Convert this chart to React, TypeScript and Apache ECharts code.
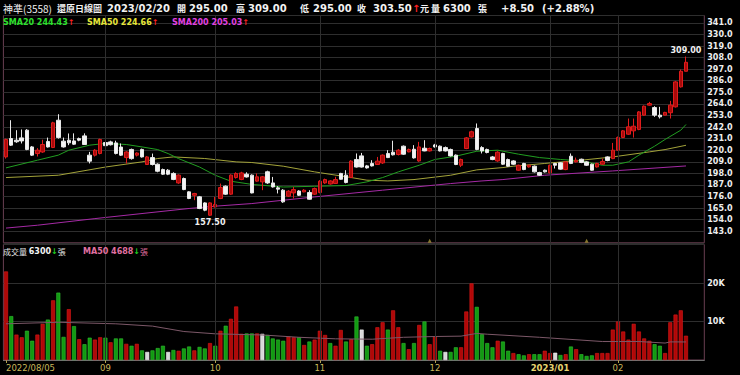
import React, { useEffect, useRef } from 'react';
import * as echarts from 'echarts';

// ---------- data ----------
const tradingDays: [string, number[]][] = [
  ['2022/08', [5, 8, 9, 10, 11, 12, 15, 16, 17, 18, 19, 22, 23, 24, 25, 26, 29, 30, 31]],
  ['2022/09', [1, 2, 5, 6, 7, 8, 12, 13, 14, 15, 16, 19, 20, 21, 22, 23, 26, 27, 28, 29, 30]],
  ['2022/10', [3, 4, 5, 6, 7, 11, 12, 13, 14, 17, 18, 19, 20, 21, 24, 25, 26, 27, 28, 31]],
  ['2022/11', [1, 2, 3, 4, 7, 8, 9, 10, 11, 14, 15, 16, 17, 18, 21, 22, 23, 24, 25, 28, 29, 30]],
  ['2022/12', [1, 2, 5, 6, 7, 8, 9, 12, 13, 14, 15, 16, 19, 20, 21, 22, 23, 26, 27, 28, 29, 30]],
  ['2023/01', [3, 4, 5, 6, 9, 10, 11, 12, 13, 16, 17, 30, 31]],
  ['2023/02', [1, 2, 3, 6, 7, 8, 9, 10, 13, 14, 15, 16, 17, 20]],
];

const opens = [
  213.6, 231.1, 229.5, 231.7, 239, 223.1, 216.8, 218.3, 228.3, 222.6,
  248.5, 228.6, 229.5, 228.8, 231, 233.6, 215.3, 215.3, 216.9, 227.3,
  227.9, 226.9, 223, 213, 220.7, 215.3, 220.7, 206.4, 213, 206.7,
  201.6, 201, 197.9, 188.9, 193.1, 180.4, 177.2, 175.7, 169.9, 158.2,
  166.1, 174.1, 185.8, 178.2, 194, 192.2, 197.2, 196.3, 190.6, 189.9,
  199.5, 188.9, 184.2, 182, 176.3, 179.4, 181.2, 180.4, 179.8, 178.2,
  179.8, 188.9, 187.9, 188.4, 197.9, 196.3, 194, 211.2, 214.6, 205.1,
  207.4, 206.4, 207.9, 216.9, 218.1, 215.9, 223.8, 218.4, 220.9, 209.8,
  221.9, 219.3, 225, 223.8, 222.5, 220.7, 215.3, 205.7, 221.6, 232.6,
  240.6, 222.5, 220.7, 213.6, 209.8, 216.9, 211.1, 209.8, 201, 207.4,
  204.1, 204.8, 198.8, 201, 198.4, 207.4, 208, 201.6, 214.3, 208.9,
  211.4, 208.9, 206.7, 204.1, 206.7, 213.6, 212, 220, 232.1, 235.2,
  238.4, 239.7, 253.3, 262.8, 260.5, 253.3, 253.3, 255.6, 261.2, 280.2,
  295,
];
const closes = [
  230.2, 224.8, 228, 228.8, 220.7, 215.3, 220, 225.4, 223.1, 246,
  232, 223.1, 227, 225.7, 229.5, 225.4, 209.6, 220, 230.2, 224.3,
  225.2, 216.9, 215.3, 218.3, 212, 217.3, 213.6, 213.6, 206.4, 200,
  197.2, 197.2, 192.2, 196.3, 182.6, 174.1, 178.8, 164.6, 163, 169.9,
  168.4, 184.5, 178.2, 196.3, 197.9, 198.4, 194.6, 179.4, 194.7, 194.7,
  188.9, 185.1, 183, 170.9, 181, 182.6, 177.2, 182, 173.4, 183.5,
  190.5, 192.1, 190.8, 192.1, 192.4, 189.3, 209.6, 204, 204, 203.2,
  205.1, 209.6, 215.3, 213, 215.6, 220, 216.2, 220.7, 212.7, 223.1,
  219.3, 221.6, 223.1, 219.3, 219.3, 214.6, 206.4, 211.2, 231.7, 237.5,
  220.7, 219.3, 217.8, 211.1, 218.1, 206.7, 204.8, 206.7, 205.7, 201.6,
  205.7, 199.4, 196.2, 199.4, 205.7, 205.7, 202, 208.9, 207.4, 210.5,
  208.3, 205.7, 201, 207.4, 209.3, 210.2, 220, 232.1, 238.4, 242.2,
  242.8, 256.4, 261.8, 264.3, 253.3, 251.7, 255.9, 262.8, 284.9, 295,
  303.5,
];
const lows = [
  212, 224, 227, 226.4, 220, 214.5, 214, 217.5, 222.5, 222,
  231, 222.5, 224.8, 225, 228.5, 225, 207.4, 214, 216, 223.8,
  224.5, 216, 214.5, 207.3, 211, 214, 213, 206, 205.5, 199,
  196.5, 196.3, 191.5, 188, 182, 173.5, 172.5, 164, 162, 157.5,
  165.5, 173.5, 177.5, 177.5, 193, 191.5, 194, 179, 190, 182,
  188, 184.5, 178.9, 170, 175.5, 174.1, 176.5, 180, 173, 177.5,
  179, 188, 187.3, 188, 192, 188.5, 193.5, 203.5, 203.5, 202.5,
  204.5, 206, 207, 212.5, 215, 215, 215.5, 218, 212, 209,
  219, 218.8, 222.5, 218.8, 218.8, 214, 205.8, 204, 221, 232,
  220, 216.9, 217, 210.5, 209, 206, 204.2, 206, 200.5, 201,
  203.5, 198.8, 195.5, 198.8, 198, 202.6, 201.5, 201, 206.8, 208.3,
  207.7, 205, 200.5, 203.5, 206, 209.5, 211.5, 219.5, 231.5, 234.5,
  232, 239, 252.8, 262.3, 251.7, 250.1, 253, 250.1, 260.5, 279.5,
  295,
];
const highs = [
  231, 248.5, 239, 239.7, 240, 224, 222, 230, 232, 247,
  254.2, 232, 235.9, 236, 232, 236, 218.4, 221, 231, 236,
  229, 229, 226.4, 219, 221.5, 218, 221.5, 214.5, 216.8, 207.5,
  202.5, 202, 199, 197, 194, 181, 179.5, 176.5, 170.5, 170.5,
  175.6, 188.3, 186.5, 197, 199, 199.5, 199, 197, 197.9, 195.5,
  200.5, 194.6, 185.8, 183, 182, 185.1, 182, 183, 182, 184.5,
  191.5, 193, 191.5, 194.7, 198.5, 201, 210.5, 216.9, 217.4, 206,
  210.5, 213.6, 216, 220, 229, 221, 224.5, 221.5, 224.8, 227.9,
  229.5, 222.5, 226, 224.5, 223.5, 221.5, 216, 212, 232.5, 238.5,
  245.4, 223.8, 221.5, 214.5, 219, 217.5, 212, 210.5, 206.3, 208,
  206.3, 205.5, 199.5, 201.6, 206.3, 208, 208.6, 209.5, 216.9, 213,
  212, 209.5, 207.3, 208, 212, 214.2, 226.9, 233, 239.2, 250.1,
  250.1, 257.2, 262.5, 265.9, 261.8, 261.2, 256.5, 266.9, 285.8, 296.7,
  309,
];
const prevCloseBefore = 212;

const volumes = [
  23000, 11400, 6600, 5900, 7600, 5000, 6600, 9400, 10500, 15500,
  17500, 6000, 13200, 8800, 5400, 4100, 5800, 5300, 5900, 5800,
  4600, 5600, 5600, 4200, 3700, 4200, 2500, 2100, 2500, 3100,
  3700, 2100, 2600, 2400, 3000, 3500, 2500, 3400, 3000, 4400,
  3700, 7600, 8900, 10700, 13900, 6800, 6900, 6900, 6900, 6800,
  6500, 5600, 5300, 5000, 6100, 5900, 5900, 3900, 4800, 5300,
  7600, 6500, 4400, 3700, 7800, 4800, 5400, 11300, 7900, 3700,
  4100, 8500, 9800, 7900, 12900, 8500, 4400, 2800, 4400, 9100,
  10000, 4100, 6100, 2400, 2100, 2100, 3300, 3300, 12600, 19900,
  13800, 6700, 4400, 3300, 5000, 4800, 2400, 1800, 1500, 1200,
  1500, 1500, 1500, 2400, 1800, 1900, 1300, 1500, 3500, 2800,
  1500, 1050, 1200, 1800, 1800, 1800, 7900, 10000, 7400, 5300,
  9400, 7400, 5600, 5000, 4100, 3700, 1800, 9800, 11800, 12900,
  6300,
];

// moving averages: [category index, value]
const sma20: [number, number][] = [
  [0, 203.2], [6, 210.5], [10, 215.3], [12, 220], [16, 224.8], [19, 226.4], [23, 225.4],
  [26, 223.1], [29, 220.6], [31, 216.8], [33, 212], [37, 204], [40, 196.2], [43, 190.5],
  [47, 187.5], [53, 185], [59, 185.7], [65, 186.4], [69, 189.9], [72, 194], [75, 199.4],
  [79, 205.7], [82, 211.2], [86, 214.3], [90, 219], [94, 220], [98, 216.2], [102, 213],
  [106, 211.2], [110, 209.8], [114, 205.7], [116, 205.7], [119, 208.9], [121, 215.3],
  [124, 223.8], [126, 230.2], [129, 239], [130, 244.43],
];
const sma50: [number, number][] = [
  [0, 194], [10, 196.2], [19, 204], [26, 208.9], [29, 212.1], [32, 213.6], [38, 212.1],
  [44, 208.9], [47, 208.3], [53, 204.8], [59, 199.4], [66, 194], [69, 191.5], [73, 190.8],
  [78, 192.1], [85, 196.2], [90, 201.3], [95, 203.5], [97, 204.8], [103, 207.4],
  [110, 210.5], [116, 213.6], [123, 218.4], [126, 220.6], [130, 224.66],
];
const sma200: [number, number][] = [
  [0, 146], [6, 148.7], [17, 155], [26, 159.8], [35, 164.6], [40, 166.8], [47, 169.3],
  [59, 175.6], [72, 182], [85, 188.3], [91, 190.8], [95, 192.1], [103, 196.2],
  [116, 200.3], [130, 205.03],
];
const volMa50: [number, number][] = [
  [0, 9400], [10, 9800], [21, 9400], [28, 8800], [34, 7400], [40, 6800], [49, 6500],
  [56, 5900], [63, 5500], [70, 5400], [76, 5900], [82, 6100], [87, 6200], [90, 6900],
  [92, 6700], [102, 5900], [114, 4800], [121, 4800], [126, 4400], [127, 4700], [130, 4688],
];
const eventMarks = [81, 111];

const stockName = '神準(3558)';
const chartKind = '還原日線圖';
const priceTicks = { min: 132, max: 348, step: 11 };
const volTicks = { min: 0, max: 30000, step: 10000 };

// ---------- derived ----------
const dates: string[] = tradingDays.flatMap(([ym, ds]) =>
  ds.map((d) => `${ym}/${String(d).padStart(2, '0')}`)
);
const PAD = 3;
const categories = [...dates, ...Array(PAD).fill('')];
const N = dates.length;
const isMonthStart = (i: number) =>
  i > 0 && i < N && dates[i].slice(0, 7) !== dates[i - 1].slice(0, 7);
const labelShown = (i: number) => i === 0 || isMonthStart(i);
const monthStarts = dates.map((_, i) => i).filter(isMonthStart);

const candleData = opens.map((o, i) => [o, closes[i], lows[i], highs[i]]);
const volColor = (i: number) => {
  const prev = i === 0 ? prevCloseBefore : closes[i - 1];
  if (closes[i] > prev) return { color: '#b00808', borderColor: '#dd1a1a' };
  if (closes[i] < prev) return { color: '#129a12', borderColor: '#30c030' };
  return { color: '#d8d8d8', borderColor: '#f4f4f4' };
};
const volData = volumes.map((v, i) => ({ value: v, itemStyle: volColor(i) }));

const last = N - 1;
const lastClose = closes[last];
const change = lastClose - closes[last - 1];
const pct = (change / closes[last - 1]) * 100;
const lastVal = (a: [number, number][]) => a[a.length - 1][1];
const trendUp = (a: [number, number][]) => a[a.length - 1][1] >= a[a.length - 2][1];

const FONT = "'DejaVu Sans', 'Noto Sans CJK TC', sans-serif";
const CJK = "'Noto Sans CJK TC', 'DejaVu Sans', sans-serif";
const GRID_L = 3.4;
const GRID_W = 700.9;
const GRID_LINE = '#2e2e2e';

function monthLines() {
  return {
    symbol: ['none', 'none'],
    silent: true,
    animation: false,
    label: { show: false },
    lineStyle: { color: GRID_LINE, type: 'solid', width: 1 },
    data: monthStarts.map((i) => ({ xAxis: i })),
  };
}

function buildOption(): echarts.EChartsCoreOption {
  const splitLineStyle = { color: GRID_LINE, width: 1 };
  const titleY = 8;
  const t = (x: number, text: string, opt: any = {}) => ({
    type: 'text',
    x,
    y: titleY,
    style: {
      text,
      fill: opt.fill || '#f2f2f2',
      font: `${opt.weight || 'bold'} ${opt.size || 10}px ${opt.family || FONT}`,
      verticalAlign: 'middle',
    },
  });
  const arrowUp = '↑';
  const arrowDown = '↓';
  const up = change >= 0;

  const rs = (fill: string, family = FONT, weight = 'bold') => ({
    fill, fontFamily: family, fontSize: 8, fontWeight: weight,
  });
  const legendRich = {
    g: rs('#2ee02e'),
    y: rs('#e6e63a'),
    m: rs('#e040e0'),
    r: rs('#ff2020'),
    gr: rs('#20d020'),
    w: rs('#e8e8e8', CJK, 'normal'),
    wb: rs('#f2f2f2'),
    p: rs('#e070a0'),
    pc: rs('#e070a0', CJK, 'normal'),
  };
  const arr = (u: boolean) => (u ? `{r|${arrowUp}}` : `{gr|${arrowDown}}`);
  const legendText = (x: number, y: number, text: string) => ({
    type: 'text',
    x,
    y,
    z: 100,
    style: { text, rich: legendRich, verticalAlign: 'middle', fill: '#ffffff', font: `bold 8px ${FONT}` },
  });

  return {
    animation: false,
    backgroundColor: '#000000',
    grid: [
      { left: GRID_L, width: GRID_W, top: 15.5, height: 227.3, show: true, borderColor: '#6a3f52', borderWidth: 1 },
      { left: GRID_L, width: GRID_W, top: 244.5, height: 115.5, show: true, borderColor: '#6a3f52', borderWidth: 1 },
    ],
    xAxis: [
      {
        type: 'category', gridIndex: 0, data: categories, boundaryGap: true,
        axisLine: { show: false }, axisTick: { show: false }, axisLabel: { show: false },
        splitLine: { show: false },
      },
      {
        type: 'category', gridIndex: 1, data: categories, boundaryGap: true,
        axisLine: { show: true, lineStyle: { color: '#707070' } },
        axisTick: { show: true, alignWithLabel: true, interval: (i: number) => labelShown(i), length: 3, lineStyle: { color: '#b0a050' } },
        axisLabel: {
          interval: (i: number) => labelShown(i),
          alignMinLabel: 'left',
          margin: 4,
          color: '#c9b75a',
          fontFamily: FONT,
          fontSize: 8.5,
          formatter: (v: string, i: number) => {
            if (i === 0) return v;
            const [yy, mm] = v.split('/');
            if (mm === '01') return `{b|${yy}/${mm}}`;
            return mm;
          },
          rich: { b: { fontFamily: FONT, fontSize: 8.5, fontWeight: 'bold', color: '#e8d470' } },
        },
        splitLine: { show: false },
      },
    ],
    yAxis: [
      {
        type: 'value', gridIndex: 0, position: 'right',
        min: priceTicks.min, max: priceTicks.max, interval: priceTicks.step,
        axisLine: { show: false }, axisTick: { show: false },
        axisLabel: {
          color: '#eeeeee', fontFamily: FONT, fontSize: 8, fontWeight: 'bold', margin: 3,
          showMinLabel: false, showMaxLabel: false,
          formatter: (v: number) => v.toFixed(1),
        },
        splitLine: { show: true, lineStyle: splitLineStyle },
      },
      {
        type: 'value', gridIndex: 1, position: 'right',
        min: volTicks.min, max: volTicks.max, interval: volTicks.step,
        axisLine: { show: false }, axisTick: { show: false },
        axisLabel: {
          color: '#eeeeee', fontFamily: FONT, fontSize: 8, fontWeight: 'bold', margin: 3,
          formatter: (v: number) => (v > volTicks.min && v < volTicks.max ? `${v / 1000}K` : ''),
        },
        splitLine: { show: true, lineStyle: splitLineStyle },
      },
    ],
    series: [
      {
        type: 'line', name: 'gridV0', xAxisIndex: 0, yAxisIndex: 0, data: [], z: 1,
        markLine: monthLines(),
      },
      {
        type: 'line', name: 'gridV1', xAxisIndex: 1, yAxisIndex: 1, data: [], z: 1,
        markLine: monthLines(),
      },
      {
        type: 'line', name: 'SMA200', xAxisIndex: 0, yAxisIndex: 0, data: sma200,
        symbol: 'none', lineStyle: { color: '#a52aa5', width: 1 }, z: 2,
      },
      {
        type: 'line', name: 'SMA50', xAxisIndex: 0, yAxisIndex: 0, data: sma50,
        symbol: 'none', lineStyle: { color: '#a3a33a', width: 1 }, z: 2,
      },
      {
        type: 'line', name: 'SMA20', xAxisIndex: 0, yAxisIndex: 0, data: sma20,
        symbol: 'none', lineStyle: { color: '#219e21', width: 1 }, z: 2,
      },
      {
        type: 'candlestick', name: 'K', xAxisIndex: 0, yAxisIndex: 0, data: candleData,
        barWidth: 4, z: 3,
        itemStyle: {
          color: '#a80a0a', color0: '#f4f4f4', borderColor: '#e01c1c', borderColor0: '#e8e8e8',
          borderColorDoji: '#e8e8e8', borderWidth: 1,
        },
        markPoint: {
          symbol: 'circle', symbolSize: 1, itemStyle: { color: 'rgba(0,0,0,0)' },
          label: {
            show: true, color: '#f0f0f0', fontFamily: FONT, fontSize: 8, fontWeight: 'bold',
            formatter: (p: any) => Number(p.value).toFixed(2),
          },
          data: [
            { type: 'max', valueDim: 'highest', label: { position: 'top', distance: 2 } },
            { type: 'min', valueDim: 'lowest', label: { position: 'bottom', distance: 2 } },
          ],
        },
      },
      {
        type: 'scatter', name: 'events', xAxisIndex: 0, yAxisIndex: 0,
        data: eventMarks.map((i) => [i, priceTicks.min + 2]),
        symbol: 'triangle', symbolSize: [4, 4], itemStyle: { color: '#a89438' }, z: 4,
      },
      {
        type: 'bar', name: 'Vol', xAxisIndex: 1, yAxisIndex: 1, data: volData,
        barWidth: 4, itemStyle: { borderWidth: 0.6 }, z: 2,
      },
      {
        type: 'line', name: 'VolMA50', xAxisIndex: 1, yAxisIndex: 1, data: volMa50,
        symbol: 'none', lineStyle: { color: '#7c5868', width: 1 }, z: 3,
      },
    ],
    graphic: [
      t(3, stockName, { weight: 'normal', size: 10, family: CJK }),
      t(57, chartKind, { size: 9, family: CJK }),
      t(107, dates[last]),
      t(177, '開', { size: 9, family: CJK }),
      t(189, opens[last].toFixed(2)),
      t(236, '高', { size: 9, family: CJK }),
      t(248, highs[last].toFixed(2)),
      t(300, '低', { size: 9, family: CJK }),
      t(313, lows[last].toFixed(2)),
      t(357, '收', { size: 9, family: CJK }),
      t(373, lastClose.toFixed(2)),
      t(412, up ? arrowUp : arrowDown, { fill: up ? '#ff2020' : '#20d020' }),
      t(420, '元', { size: 9, family: CJK }),
      t(431, '量', { size: 9, family: CJK }),
      t(443, String(volumes[last])),
      t(478, '張', { size: 9, family: CJK }),
      t(501, `${up ? '+' : ''}${change.toFixed(2)}`),
      t(542, `(${up ? '+' : ''}${pct.toFixed(2)}%)`),
      legendText(3, 22, `{g|SMA20 ${lastVal(sma20).toFixed(2)}}${arr(trendUp(sma20))}`),
      legendText(87, 22, `{y|SMA50 ${lastVal(sma50).toFixed(2)}}${arr(trendUp(sma50))}`),
      legendText(172, 22, `{m|SMA200 ${lastVal(sma200).toFixed(2)}}${arr(trendUp(sma200))}`),
      legendText(3, 251, `{w|成交量 }{wb|${volumes[last]}}${arr(volumes[last] >= volumes[last - 1])}{w|張}`),
      legendText(83, 251, `{p|MA50 ${Math.round(lastVal(volMa50))}}${arr(trendUp(volMa50))}{pc|張}`),
    ],
  };
}

export default function App() {
  const ref = useRef<HTMLDivElement>(null);
  useEffect(() => {
    document.body.style.margin = '0';
    document.body.style.background = '#000';
    const chart = echarts.init(ref.current!, null, { renderer: 'svg' });
    chart.setOption(buildOption());
    return () => chart.dispose();
  }, []);
  return (
    <div
      ref={ref}
      style={{ position: 'absolute', left: 0, top: 0, width: 740, height: 375, background: '#000' }}
    />
  );
}
